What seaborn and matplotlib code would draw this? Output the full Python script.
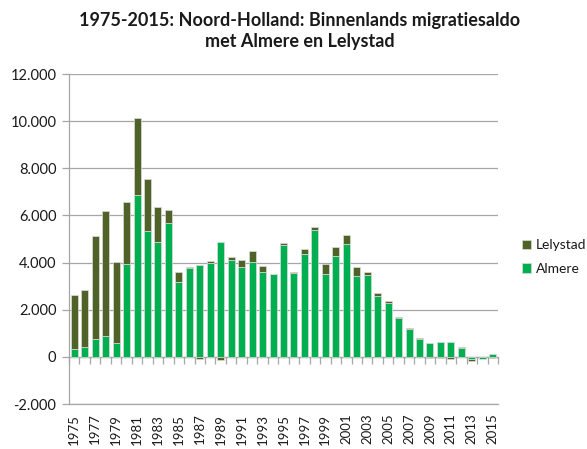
import numpy as np
import pandas as pd
import matplotlib
matplotlib.use("Agg")
import matplotlib.pyplot as plt
from matplotlib.ticker import FuncFormatter
import seaborn as sns

# Binnenlands migratiesaldo Noord-Holland met Almere en Lelystad, 1975-2015
years = list(range(1975, 2016))
almere = [350, 400, 740, 900, 570, 3960, 6860, 5340, 4880, 5690,
          3160, 3760, 3880, 4000, 4860, 4120, 3810, 4020, 3590, 3500,
          4750, 3570, 4360, 5380, 3520, 4290, 4800, 3420, 3460, 2580,
          2280, 1630, 1190, 770, 600, 640, 640, 370, -90, -80, 110]
lelystad = [2280, 2450, 4370, 5280, 3450, 2620, 3270, 2220, 1470, 550,
            420, 70, -90, 70, -120, 130, 320, 450, 270, 30,
            70, 30, 200, 150, 440, 380, 370, 400, 160, 110,
            100, 70, 40, 40, -40, -40, -100, 30, -80, -20, -55]
series_names = ["Almere", "Lelystad"]
series_colors = ["#00b050", "#4f6228"]
y_ticks = list(range(-2000, 12001, 2000))

sns.set_style("white")
plt.rcParams["font.family"] = ["Lato", "DejaVu Sans"]

df = pd.DataFrame({"jaar": [str(y) for y in years],
                   "Almere": almere, "Lelystad": lelystad})

alm = np.array(almere, dtype=float)
lel = np.array(lelystad, dtype=float)
# Excel-style stacking: negative parts stack downwards from zero
lel_bottom = np.where(np.sign(lel) == np.sign(alm), alm, 0.0)

fig = plt.figure(figsize=(5.87, 4.49), dpi=100)
ax = fig.add_axes([69 / 587, 45 / 449, 429 / 587, 330 / 449])

grid_col = "#a6a6a6"
bar_w = 0.67
sns.barplot(data=df, x="jaar", y="Almere", color=series_colors[0],
            width=bar_w, saturation=1, ax=ax,
            edgecolor="#dcdcdc", linewidth=0.5, zorder=2)
sns.barplot(data=df, x="jaar", y="Lelystad", color=series_colors[1],
            width=bar_w, saturation=1, ax=ax,
            bottom=lel_bottom, edgecolor="#dcdcdc", linewidth=0.5, zorder=2)

ax.set_ylim(-2000, 12000)
ax.set_xlim(-0.5, len(years) - 0.5)
ax.set_yticks(y_ticks)
ax.yaxis.set_major_formatter(
    FuncFormatter(lambda v, _: f"{int(v):,}".replace(",", ".")))
ax.yaxis.grid(True, color=grid_col, linewidth=0.9, zorder=0)
ax.set_axisbelow(True)
ax.set_xlabel("")
ax.set_ylabel("")

xt = list(range(0, len(years), 2))
ax.set_xticks(xt)
ax.set_xticklabels([str(years[i]) for i in xt], rotation=90)
ax.tick_params(axis="x", length=0, pad=7, labelsize=9.5, labelcolor="#1a1a1a")
ax.tick_params(axis="y", length=5, color=grid_col, width=0.9, pad=4,
               labelsize=10.5, labelcolor="#1a1a1a", left=True)

for s in ["top", "right"]:
    ax.spines[s].set_visible(False)
ax.spines["left"].set_color(grid_col)
ax.spines["left"].set_linewidth(0.9)
ax.spines["bottom"].set_color(grid_col)
ax.spines["bottom"].set_linewidth(0.9)

# category axis crossing at zero, with tick marks between categories
zero_frac = (0 - y_ticks[0]) / (y_ticks[-1] - y_ticks[0])
sec = ax.secondary_xaxis(zero_frac)
sec.set_xticks(np.arange(-0.5, len(years), 1.0))
sec.set_xticklabels([])
sec.tick_params(axis="x", direction="out", length=5, color=grid_col, width=0.9)
sec.spines["bottom"].set_color(grid_col)
sec.spines["bottom"].set_linewidth(0.9)

fig.text(300 / 587, 1 - 12 / 449,
         "1975-2015: Noord-Holland: Binnenlands migratiesaldo\nmet Almere en Lelystad",
         ha="center", va="top", fontsize=13, fontweight="bold",
         linespacing=1.3, color="#1a1a1a")

handles = ax.patches
alm_patch = handles[0]
lel_patch = handles[len(years)]
leg = fig.legend([lel_patch, alm_patch], [series_names[1], series_names[0]],
                 loc="center left", bbox_to_anchor=(522 / 587, 1 - 257 / 449),
                 frameon=False, handlelength=0.65, handleheight=0.65,
                 handletextpad=0.35, labelspacing=0.85, fontsize=10,
                 borderaxespad=0, borderpad=0)
for t in leg.get_texts():
    t.set_color("#1a1a1a")

fig.savefig("out.png", dpi=100)
